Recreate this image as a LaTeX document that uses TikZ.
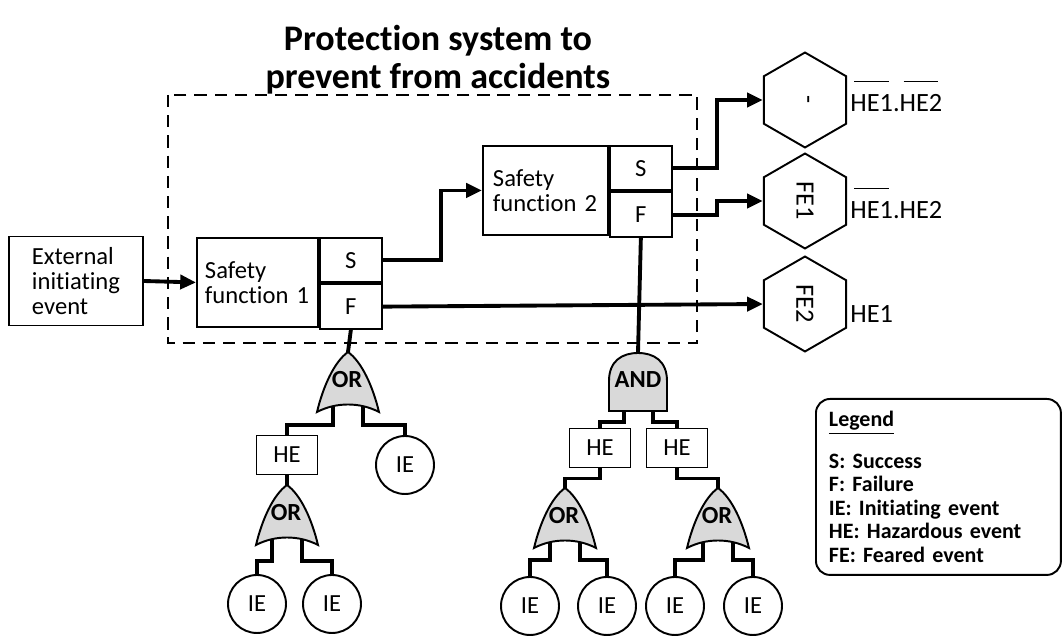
\documentclass[tikz,border=0pt]{standalone}
\usepackage{fontspec}
\usepackage{graphicx}
\setmainfont{Carlito}[Ligatures=NoCommon]
\frenchspacing
\usetikzlibrary{arrows.meta,positioning,shapes.geometric,backgrounds}

\newsavebox{\barbox}
\newcommand{\barover}[1]{\sbox{\barbox}{#1}\rlap{\hspace{0.15em}\raisebox{1.15em}{\rule{\dimexpr\wd\barbox-0.3em\relax}{0.5pt}}}\usebox{\barbox}}

\tikzset{
  box/.style={draw, line width=1.1pt, font=\fontsize{14}{14}\selectfont},
  sfbox/.style={box, minimum width=2.42cm, minimum height=1.78cm, text width=2.1cm, align=left, inner xsep=0.14cm},
  cell/.style={box, minimum width=1.24cm, minimum height=0.89cm, inner sep=0pt},
  hebox/.style={box, minimum width=1.22cm, minimum height=0.78cm, inner sep=0pt},
  iecirc/.style={box, circle, minimum size=1.16cm, inner sep=0pt},
  hexa/.style={draw, line width=1.1pt, regular polygon, regular polygon sides=6, shape border rotate=30, minimum size=1.9cm, inner sep=0pt, font=\fontsize{15}{15}\selectfont},
  lbl/.style={anchor=base west, inner sep=0pt, font=\fontsize{15}{15}\selectfont},
  wire/.style={line width=2.2pt},
  arr/.style={wire, -{Triangle[length=9pt, width=8pt]}},
  protect/.style={line width=1.1pt, dash pattern=on 7pt off 4.5pt},
  gatebody/.style={draw=black, fill=gray!30, line width=1.1pt},
  gatetext/.style={inner sep=0pt, font=\fontsize{14}{14}\selectfont\bfseries},
  orgate/.pic={
    \filldraw[gatebody] (0,0) .. controls (-14,10) and (-25,35) .. (-31,60)
      .. controls (-12,50) and (12,50) .. (31,60)
      .. controls (25,35) and (14,10) .. (0,0) -- cycle;
    \node[gatetext] (-txt) at (-1,28) {OR};
    \coordinate (-top) at (0,0);
    \coordinate (-in1) at (-15,54);
    \coordinate (-in2) at (15,54);
  },
  andgate/.pic={
    \filldraw[gatebody] (-29,58) -- (-29,28) .. controls (-29,8) and (-16,0) .. (0,0)
      .. controls (16,0) and (29,8) .. (29,28) -- (29,58) -- cycle;
    \node[gatetext] (-txt) at (0,27) {AND};
    \coordinate (-top) at (0,0);
    \coordinate (-in1) at (-14,55);
    \coordinate (-in2) at (15,55);
  },
  legendbox/.style={draw, line width=1.1pt, rounded corners=8pt, anchor=north west,
    minimum width=4.9cm, minimum height=3.52cm, text width=4.38cm, align=left,
    font=\fontsize{12.5}{13.4}\selectfont\bfseries},
  title/.style={align=center, font=\fontsize{20.5}{21.5}\selectfont\bfseries}
}

\begin{document}
\begin{tikzpicture}[x=0.02cm, y=-0.02cm]
  \useasboundingbox (0,0) rectangle (1063,638);

  % title and protection frame
  \node[title] (title) at (438,60) {Protection system to\\prevent from accidents};
  \draw[protect] (168,95) rectangle (697,343);

  % event tree
  \node[box, align=left, minimum width=2.68cm, minimum height=1.78cm] (ext) at (76,281) {External\\initiating\\event};
  \node[sfbox, anchor=north west] (sf1) at (196,237) {Safety\\function 1};
  \node[cell, anchor=north west] (sf1s) at (sf1.north east) {S};
  \node[cell, below=0pt of sf1s] (sf1f) {F};
  \node[sfbox, minimum width=2.5cm, anchor=north west] (sf2) at (482,145) {Safety\\function 2};
  \node[cell, anchor=north west] (sf2s) at (sf2.north east) {S};
  \node[cell, below=0pt of sf2s] (sf2f) {F};

  % feared events
  \node[hexa] (hex1) at (805,100) {\rotatebox{-90}{-}};
  \node[hexa] (hex2) at (805,201) {\rotatebox{-90}{FE1}};
  \node[hexa] (hex3) at (805,304) {\rotatebox{-90}{FE2}};
  \node[lbl] (lab1) at (850,112) {\barover{HE1}.\barover{HE2}};
  \node[lbl] (lab2) at (850,219) {\barover{HE1}.HE2};
  \node[lbl] (lab3) at (850,323) {HE1};

  % fault trees
  \pic (or1) at (348,352) {orgate};
  \node[hebox] (he1) at (287,455) {HE};
  \node[iecirc] (ie1) at (405,465) {IE};
  \pic (or2) at (287,485) {orgate};
  \node[iecirc] (ie2) at (257,604) {IE};
  \node[iecirc] (ie3) at (332,604) {IE};

  \pic (and1) at (638,353) {andgate};
  \node[hebox] (he2) at (600,448) {HE};
  \node[hebox] (he3) at (677,448) {HE};
  \pic (or3) at (565,488) {orgate};
  \pic (or4) at (718,488) {orgate};
  \node[iecirc] (ie4) at (530,606) {IE};
  \node[iecirc] (ie5) at (607,606) {IE};
  \node[iecirc] (ie6) at (675,606) {IE};
  \node[iecirc] (ie7) at (753,606) {IE};

  % legend
  \node[legendbox] (legend) at (815,398) {\underline{Legend}\\[10pt]S: Success\\F: Failure\\IE: Initiating event\\HE: Hazardous event\\FE: Feared event};

  \begin{scope}[on background layer]
    \draw[arr] (ext.east) -- (sf1.west);
    \draw[arr] (sf1s.east) -- ++(58,0) |- (sf2.west);
    \draw[arr] (sf1f.east) -- (hex3.west);
    \draw[arr] (sf2s.east) -- ++(44,0) |- (hex1.west);
    \draw[arr] (sf2f.east) -- ++(44,0) |- (hex2.west);
    \draw[wire] (sf1f.south) -- (or1-top);
    \draw[wire] (sf2f.south) -- (and1-top);
    \draw[wire] (he1.south) -- (or2-top);
    \draw[wire] (he2.south) -- ++(0,10) -| (or3-top);
    \draw[wire] (he3.south) -- ++(0,10) -| (or4-top);
    \foreach \g/\a/\b/\d in {or1/he1/ie1/19, or2/ie2/ie3/22, and1/he2/he3/14, or3/ie4/ie5/18, or4/ie6/ie7/18}{
      \draw[wire] (\g-in1) -- ++(0,\d) -| (\a.north);
      \draw[wire] (\g-in2) -- ++(0,\d) -| (\b.north);
    }
  \end{scope}
\end{tikzpicture}
\end{document}
